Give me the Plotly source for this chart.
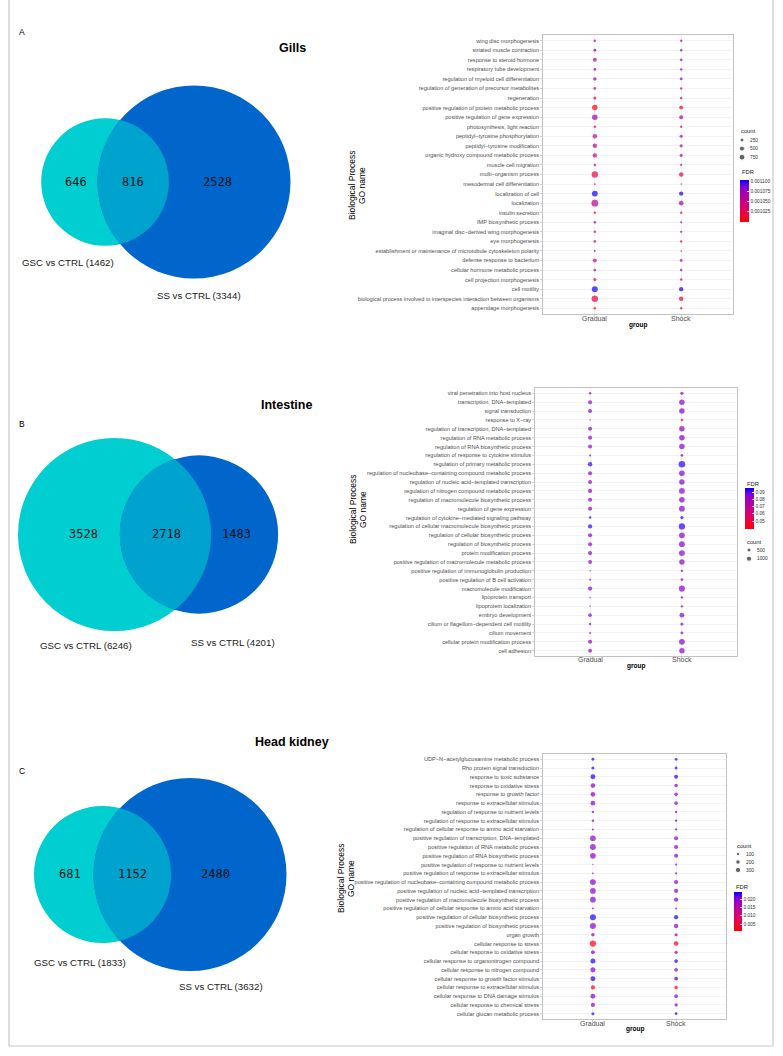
import numpy as np
import plotly.graph_objects as go

W, H = 783, 1056

# ---------------- Venn data ----------------
venn_titles = ["Gills", "Intestine", "Head kidney"]
venn_letters = ["A", "B", "C"]
gsc_only = [646, 3528, 681]
shared = [816, 2718, 1152]
ss_only = [2528, 1483, 2480]
gsc_total = [1462, 6246, 1833]
ss_total = [3344, 4201, 3632]

groups = ["Gradual", "Shock"]

# ---------------- Gills GO terms (top -> bottom) ----------------
gills_terms = [
    "wing disc morphogenesis", "striated muscle contraction", "response to steroid hormone",
    "respiratory tube development", "regulation of myeloid cell differentiation",
    "regulation of generation of precursor metabolites", "regeneration",
    "positive regulation of protein metabolic process", "positive regulation of gene expression",
    "photosynthesis, light reaction", "peptidyl\u2212tyrosine phosphorylation",
    "peptidyl\u2212tyrosine modification", "organic hydroxy compound metabolic process",
    "muscle cell migration", "multi\u2212organism process", "mesodermal cell differentiation",
    "localization of cell", "localization", "insulin secretion", "IMP biosynthetic process",
    "imaginal disc\u2212derived wing morphogenesis", "eye morphogenesis",
    "establishment or maintenance of microtubule cytoskeleton polarity",
    "defense response to bacterium", "cellular hormone metabolic process",
    "cell projection morphogenesis", "cell motility",
    "biological process involved in interspecies interaction between organisms",
    "appendage morphogenesis",
]
gills_grad_count = [60, 90, 250, 90, 180, 85, 130, 650, 660, 60, 350, 355, 345, 55, 950, 25,
                    780, 1100, 58, 55, 57, 80, 25, 260, 88, 130, 790, 960, 60]
gills_shock_count = [55, 55, 90, 55, 90, 55, 60, 250, 255, 50, 130, 132, 125, 40, 350, 22,
                     330, 420, 50, 40, 42, 55, 22, 92, 58, 62, 335, 380, 52]
gills_grad_fdr = [0.001055, 0.001090, 0.001055, 0.001080, 0.001080, 0.001025, 0.001030, 0.001003,
                  0.001075, 0.001022, 0.001062, 0.001062, 0.001055, 0.001062, 0.001020, 0.001030,
                  0.001100, 0.001058, 0.001025, 0.001085, 0.001062, 0.001022, 0.001095, 0.001055,
                  0.001080, 0.001028, 0.001100, 0.001020, 0.001005]
gills_shock_fdr = [0.001055, 0.001090, 0.001055, 0.001080, 0.001080, 0.001025, 0.001030, 0.001003,
                   0.001075, 0.001022, 0.001062, 0.001062, 0.001055, 0.001062, 0.001020, 0.001030,
                   0.001100, 0.001058, 0.001025, 0.001085, 0.001062, 0.001022, 0.001095, 0.001055,
                   0.001080, 0.001028, 0.001100, 0.001020, 0.001005]

# ---------------- Intestine GO terms ----------------
int_terms = [
    "viral penetration into host nucleus", "transcription, DNA\u2212templated", "signal transduction",
    "response to X\u2212ray", "regulation of transcription, DNA\u2212templated",
    "regulation of RNA metabolic process", "regulation of RNA biosynthetic process",
    "regulation of response to cytokine stimulus", "regulation of primary metabolic process",
    "regulation of nucleobase\u2212containing compound metabolic process",
    "regulation of nucleic acid\u2212templated transcription",
    "regulation of nitrogen compound metabolic process",
    "regulation of macromolecule biosynthetic process", "regulation of gene expression",
    "regulation of cytokine\u2212mediated signaling pathway",
    "regulation of cellular macromolecule biosynthetic process",
    "regulation of cellular biosynthetic process", "regulation of biosynthetic process",
    "protein modification process", "positive regulation of macromolecule metabolic process",
    "positive regulation of immunoglobulin production", "positive regulation of B cell activation",
    "macromolecule modification", "lipoprotein transport", "lipoprotein localization",
    "embryo development", "cilium or flagellum\u2212dependent cell motility", "cilium movement",
    "cellular protein modification process", "cell adhesion",
]
int_grad_count = [110, 500, 510, 30, 500, 520, 505, 60, 650, 530, 500, 560, 520, 540, 100,
                  600, 540, 545, 550, 480, 30, 55, 620, 30, 30, 380, 100, 60, 540, 420]
int_shock_count = [270, 1200, 1220, 100, 1200, 1240, 1210, 170, 1900, 1260, 1200, 1400, 1250,
                   1350, 250, 1700, 1380, 1390, 1400, 1150, 90, 150, 1600, 90, 90, 820, 260, 170,
                   1380, 1150]
int_grad_fdr = [0.0843, 0.0843, 0.0843, 0.0418, 0.0843, 0.0843, 0.0843, 0.0843, 0.0928, 0.0843,
                0.0843, 0.0843, 0.0843, 0.0843, 0.0928, 0.0928, 0.0843, 0.0843, 0.0843, 0.0843,
                0.0843, 0.0843, 0.0843, 0.0843, 0.0843, 0.0843, 0.0843, 0.0843, 0.0843, 0.0843]
int_shock_fdr = [0.0843, 0.0843, 0.0843, 0.0418, 0.0843, 0.0843, 0.0843, 0.0843, 0.0928, 0.0843,
                 0.0843, 0.0843, 0.0843, 0.0843, 0.0928, 0.0928, 0.0843, 0.0843, 0.0843, 0.0843,
                 0.0843, 0.0843, 0.0843, 0.0843, 0.0843, 0.0843, 0.0843, 0.0843, 0.0843, 0.0843]

# ---------------- Head kidney GO terms ----------------
hk_terms = [
    "UDP\u2212N\u2212acetylglucosamine metabolic process", "Rho protein signal transduction",
    "response to toxic substance", "response to oxidative stress", "response to growth factor",
    "response to extracellular stimulus", "regulation of response to nutrient levels",
    "regulation of response to extracellular stimulus",
    "regulation of cellular response to amino acid starvation",
    "positive regulation of transcription, DNA\u2212templated",
    "positive regulation of RNA metabolic process", "positive regulation of RNA biosynthetic process",
    "positive regulation of response to nutrient levels",
    "positive regulation of response to extracellular stimulus",
    "positive regulation of nucleobase\u2212containing compound metabolic process",
    "positive regulation of nucleic acid\u2212templated transcription",
    "positive regulation of macromolecule biosynthetic process",
    "positive regulation of cellular response to amino acid starvation",
    "positive regulation of cellular biosynthetic process",
    "positive regulation of biosynthetic process", "organ growth", "cellular response to stress",
    "cellular response to oxidative stress", "cellular response to organonitrogen compound",
    "cellular response to nitrogen compound", "cellular response to growth factor stimulus",
    "cellular response to extracellular stimulus", "cellular response to DNA damage stimulus",
    "cellular response to chemical stress", "cellular glucan metabolic process",
]
hk_grad_count = [60, 75, 260, 220, 225, 230, 35, 38, 25, 370, 400, 375, 15, 20, 410, 372, 390,
                 20, 420, 425, 100, 460, 140, 270, 275, 265, 180, 260, 175, 70]
hk_shock_count = [55, 60, 150, 110, 115, 115, 35, 36, 30, 160, 170, 162, 30, 32, 180, 160, 170,
                  22, 185, 188, 80, 220, 85, 120, 122, 118, 105, 120, 90, 55]
hk_grad_fdr = [0.0235, 0.0235, 0.0235, 0.0195, 0.0195, 0.0195, 0.0195, 0.0195, 0.0195, 0.0195,
               0.0195, 0.0195, 0.0195, 0.0195, 0.0195, 0.0195, 0.0195, 0.0195, 0.0235, 0.0195,
               0.0195, 0.0020, 0.0195, 0.0235, 0.0195, 0.0235, 0.0020, 0.0195, 0.0195, 0.0235]
hk_shock_fdr = [0.0235, 0.0235, 0.0235, 0.0195, 0.0195, 0.0195, 0.0195, 0.0195, 0.0195, 0.0195,
                0.0195, 0.0195, 0.0195, 0.0195, 0.0195, 0.0195, 0.0195, 0.0195, 0.0235, 0.0195,
                0.0195, 0.0020, 0.0195, 0.0235, 0.0195, 0.0235, 0.0020, 0.0195, 0.0195, 0.0235]

# legend values
gills_count_breaks = [250, 500, 750]
int_count_breaks = [500, 1000]
hk_count_breaks = [100, 200, 300]
gills_fdr_ticks = [0.001025, 0.00105, 0.001075, 0.0011]
gills_fdr_labels = ["0.001025", "0.001050", "0.001075", "0.001100"]
int_fdr_ticks = [0.05, 0.06, 0.07, 0.08, 0.09]
int_fdr_labels = ["0.05", "0.06", "0.07", "0.08", "0.09"]
hk_fdr_ticks = [0.005, 0.010, 0.015, 0.020]
hk_fdr_labels = ["0.005", "0.010", "0.015", "0.020"]

# ---------------- styling / layout ----------------
FONT = "Liberation Sans, Arial, sans-serif"
MONO = "DejaVu Sans Mono, monospace"
CYAN = "#00CED1"
BLUE = "#0066CC"
OVERLAP = "#00A3CD"
colorscale = [[0.0, "#FF0000"], [0.25, "rgb(232,0,79)"], [0.5, "rgb(201,0,136)"],
              [0.75, "rgb(154,0,194)"], [0.875, "rgb(115,0,224)"], [1.0, "#0000FF"]]


def px(x):
    return x / W


def py(y):
    return 1 - y / H


fig = go.Figure()
shapes = []
annotations = []

# ---- Venn diagrams (overlay axis in pixel units) ----
venn_layout = [
    dict(c1=(105, 182), sep=89, nums=[(76, 182), (133, 182), (217, 182)],
         lab1=(68, 262), lab2=(199, 295), title=(292, 48), letter=(22, 32)),
    dict(c1=(114.5, 534.5), sep=84.5, nums=[(83, 534), (166, 534), (236, 534)],
         lab1=(86, 645), lab2=(233, 642), title=(286, 405), letter=(22, 424)),
    dict(c1=(102.5, 874.5), sep=87.5, nums=[(70, 874), (132, 874), (215, 874)],
         lab1=(80, 962), lab2=(221, 986), title=(292, 742), letter=(22, 771)),
]
MAX_R = 96.5

for i, L in enumerate(venn_layout):
    nmax = max(gsc_total[i], ss_total[i])
    r1 = MAX_R * np.sqrt(gsc_total[i] / nmax)
    r2 = MAX_R * np.sqrt(ss_total[i] / nmax)
    x1, yc = L["c1"]
    x2 = x1 + L["sep"]
    d = x2 - x1
    shapes.append(dict(type="circle", xref="x", yref="y", x0=x1 - r1, x1=x1 + r1,
                       y0=yc - r1, y1=yc + r1, fillcolor=CYAN, line=dict(width=0), layer="below"))
    shapes.append(dict(type="circle", xref="x", yref="y", x0=x2 - r2, x1=x2 + r2,
                       y0=yc - r2, y1=yc + r2, fillcolor=BLUE, line=dict(width=0), layer="below"))
    a = (d * d + r1 * r1 - r2 * r2) / (2 * d)
    h = np.sqrt(max(r1 * r1 - a * a, 0))
    t1 = np.arctan2(h, a)
    t2 = np.arctan2(h, d - a)
    ang1 = np.linspace(-t1, t1, 80)
    ang2 = np.linspace(np.pi - t2, np.pi + t2, 80)
    pts = [(x1 + r1 * np.cos(t), yc + r1 * np.sin(t)) for t in ang1]
    pts += [(x2 + r2 * np.cos(t), yc + r2 * np.sin(t)) for t in ang2]
    path = "M " + " L ".join(f"{p[0]:.2f},{p[1]:.2f}" for p in pts) + " Z"
    shapes.append(dict(type="path", xref="x", yref="y", path=path, fillcolor=OVERLAP,
                       line=dict(width=0), layer="below"))
    for (nx, ny), val in zip(L["nums"], [gsc_only[i], shared[i], ss_only[i]]):
        annotations.append(dict(x=nx, y=ny, xref="x", yref="y", text=str(val), showarrow=False,
                                font=dict(family=MONO, size=12, color="#111111")))
    annotations.append(dict(x=L["lab1"][0], y=L["lab1"][1], xref="x", yref="y",
                            text=f"GSC vs CTRL ({gsc_total[i]})", showarrow=False,
                            font=dict(family=FONT, size=9.7, color="#1a1a1a")))
    annotations.append(dict(x=L["lab2"][0], y=L["lab2"][1], xref="x", yref="y",
                            text=f"SS vs CTRL ({ss_total[i]})", showarrow=False,
                            font=dict(family=FONT, size=9.7, color="#1a1a1a")))
    annotations.append(dict(x=L["title"][0], y=L["title"][1], xref="x", yref="y",
                            text=f"<b>{venn_titles[i]}</b>", showarrow=False,
                            font=dict(family=FONT, size=12.5, color="#000000")))
    annotations.append(dict(x=L["letter"][0], y=L["letter"][1], xref="x", yref="y",
                            text=venn_letters[i], showarrow=False, xanchor="center",
                            font=dict(family=FONT, size=8.5, color="#000000")))

# ---- Dot plots ----
panels = [
    dict(terms=gills_terms, gc=gills_grad_count, sc=gills_shock_count, gf=gills_grad_fdr,
         sf=gills_shock_fdr, box=(543, 35, 733, 314), srange=(1.5, 6.8),
         crange=(0.000998, 0.0011025), ticks=gills_fdr_ticks, tlabels=gills_fdr_labels,
         cbar=(740, 180, 42, 9), fdr_title=(740, 172), breaks=gills_count_breaks,
         cnt_title=(739, 131), cnt_x=742, cnt_y0=140, cnt_dy=8.6, ytitle=(352, 362, 186),
         xlab_y=318, group_y=325),
    dict(terms=int_terms, gc=int_grad_count, sc=int_shock_count, gf=int_grad_fdr,
         sf=int_shock_fdr, box=(535, 388, 737, 656), srange=(1.4, 6.6),
         crange=(0.039, 0.0956), ticks=int_fdr_ticks, tlabels=int_fdr_labels,
         cbar=(745, 488, 41, 9), fdr_title=(745, 484), breaks=int_count_breaks,
         cnt_title=(745, 542), cnt_x=749, cnt_y0=550, cnt_dy=8.7, ytitle=(353, 363, 510),
         xlab_y=659, group_y=666),
    dict(terms=hk_terms, gc=hk_grad_count, sc=hk_shock_count, gf=hk_grad_fdr,
         sf=hk_shock_fdr, box=(543, 754, 726, 1019), srange=(1.3, 6.2),
         crange=(0.0008, 0.0242), ticks=hk_fdr_ticks, tlabels=hk_fdr_labels,
         cbar=(734, 892, 39, 8), fdr_title=(734, 887), breaks=hk_count_breaks,
         cnt_title=(735, 846), cnt_x=738, cnt_y0=854, cnt_dy=8.0, ytitle=(341, 351, 879),
         xlab_y=1023, group_y=1029),
]

layout_axes = {}
layout_axes["xaxis"] = dict(domain=[0, 1], range=[0, W], visible=False, fixedrange=True)
layout_axes["yaxis"] = dict(domain=[0, 1], range=[H, 0], visible=False, fixedrange=True)

coloraxes = {}
for k, P in enumerate(panels):
    n = k + 2
    xa, ya = f"x{n}", f"y{n}"
    ca = "coloraxis" if k == 0 else f"coloraxis{k + 1}"
    allc = np.array(P["gc"] + P["sc"], dtype=float)
    cmin, cmax = allc.min(), allc.max()
    smin, smax = P["srange"]

    def sz(c, cmin=cmin, cmax=cmax, smin=smin, smax=smax):
        c = np.clip(np.asarray(c, dtype=float), cmin, cmax)
        return smin + (smax - smin) * np.sqrt((c - cmin) / (cmax - cmin))

    for g, cnt, fdr in [(groups[0], P["gc"], P["gf"]), (groups[1], P["sc"], P["sf"])]:
        fig.add_trace(go.Scatter(
            x=[g] * len(P["terms"]), y=P["terms"], mode="markers", xaxis=xa, yaxis=ya,
            marker=dict(size=sz(cnt), color=fdr, coloraxis=ca, line=dict(width=0)),
            hoverinfo="skip", showlegend=False))

    x0, y0, x1, y1 = P["box"]
    nT = len(P["terms"])
    axis_common = dict(showline=True, mirror=True, linecolor="#B3B3B3", linewidth=0.8,
                       gridcolor="#EBEBEB", gridwidth=0.6, zeroline=False,
                       ticklen=2, tickwidth=0.6, tickcolor="#B3B3B3", automargin=False,
                       fixedrange=True)
    layout_axes[f"xaxis{n}"] = dict(
        domain=[px(x0), px(x1)], anchor=ya, type="category", categoryorder="array",
        categoryarray=groups, range=[-0.6, 1.6], ticks="outside", showticklabels=False,
        **axis_common)
    layout_axes[f"yaxis{n}"] = dict(
        domain=[py(y1), py(y0)], anchor=xa, type="category", categoryorder="array",
        categoryarray=list(reversed(P["terms"])), range=[-0.6, nT - 0.4], ticks="outside",
        tickfont=dict(family=FONT, size=5.6, color="#4D4D4D"), **axis_common)

    for g in groups:
        annotations.append(dict(x=g, y=P["xlab_y"], xref=xa, yref="y", text=g,
                                showarrow=False,
                                font=dict(family=FONT, size=7, color="#4D4D4D")))

    cbx, cby, cblen, cbth = P["cbar"]
    coloraxes[ca] = dict(
        colorscale=colorscale, cmin=P["crange"][0], cmax=P["crange"][1],
        colorbar=dict(x=px(cbx), xanchor="left", y=py(cby), yanchor="top", lenmode="pixels",
                      len=cblen, thickness=cbth, thicknessmode="pixels", xpad=0, ypad=0,
                      outlinewidth=0, ticks="inside", ticklen=2, tickcolor="white",
                      tickvals=P["ticks"], ticktext=P["tlabels"],
                      tickfont=dict(family=FONT, size=4.8, color="#333333"),
                      title=dict(text="", side="top")))
    annotations.append(dict(x=P["fdr_title"][0], y=P["fdr_title"][1], xref="x", yref="y",
                            text="FDR", showarrow=False, xanchor="left", yanchor="middle",
                            font=dict(family=FONT, size=5.8, color="#1a1a1a")))

    # size legend
    br = P["breaks"]
    ly = [P["cnt_y0"] + j * P["cnt_dy"] for j in range(len(br))]
    fig.add_trace(go.Scatter(x=[P["cnt_x"]] * len(br), y=ly, mode="markers", xaxis="x",
                             yaxis="y", marker=dict(size=sz(br), color="#222222"),
                             hoverinfo="skip", showlegend=False))
    for j, b in enumerate(br):
        annotations.append(dict(x=P["cnt_x"] + 6, y=ly[j], xref="x", yref="y", text=str(b),
                                showarrow=False, xanchor="left",
                                font=dict(family=FONT, size=4.8, color="#333333")))
    annotations.append(dict(x=P["cnt_title"][0], y=P["cnt_title"][1], xref="x", yref="y",
                            text="count", showarrow=False, xanchor="left",
                            font=dict(family=FONT, size=5.8, color="#1a1a1a")))

    # axis titles
    tx1, tx2, tyc = P["ytitle"]
    annotations.append(dict(x=tx1, y=tyc, xref="x", yref="y", text="Biological Process",
                            showarrow=False, textangle=-90,
                            font=dict(family=FONT, size=8.5, color="#000000")))
    annotations.append(dict(x=tx2, y=tyc, xref="x", yref="y", text="GO name",
                            showarrow=False, textangle=-90,
                            font=dict(family=FONT, size=8.5, color="#000000")))
    annotations.append(dict(x=(x0 + x1) / 2, y=P["group_y"], xref="x", yref="y",
                            text="<b>group</b>", showarrow=False,
                            font=dict(family=FONT, size=6.5, color="#000000")))

# outer frame (left, right, bottom edges)
for (fx0, fy0, fx1, fy1) in [(9, 0, 9, 1046), (773, 0, 773, 1046), (9, 1046, 773, 1046)]:
    shapes.append(dict(type="line", xref="paper", yref="paper", x0=px(fx0), x1=px(fx1),
                       y0=py(fy0), y1=py(fy1), line=dict(color="#C8C8C8", width=1.2),
                       layer="above"))

fig.update_layout(
    width=W, height=H, margin=dict(l=0, r=0, t=0, b=0), autosize=False,
    paper_bgcolor="white", plot_bgcolor="white", showlegend=False,
    shapes=shapes, annotations=annotations, **layout_axes, **coloraxes,
    font=dict(family=FONT),
)
fig.write_html("out.html", config={"displayModeBar": False, "staticPlot": True},
               post_script="document.body.style.margin='0px';document.body.style.padding='0px';")
